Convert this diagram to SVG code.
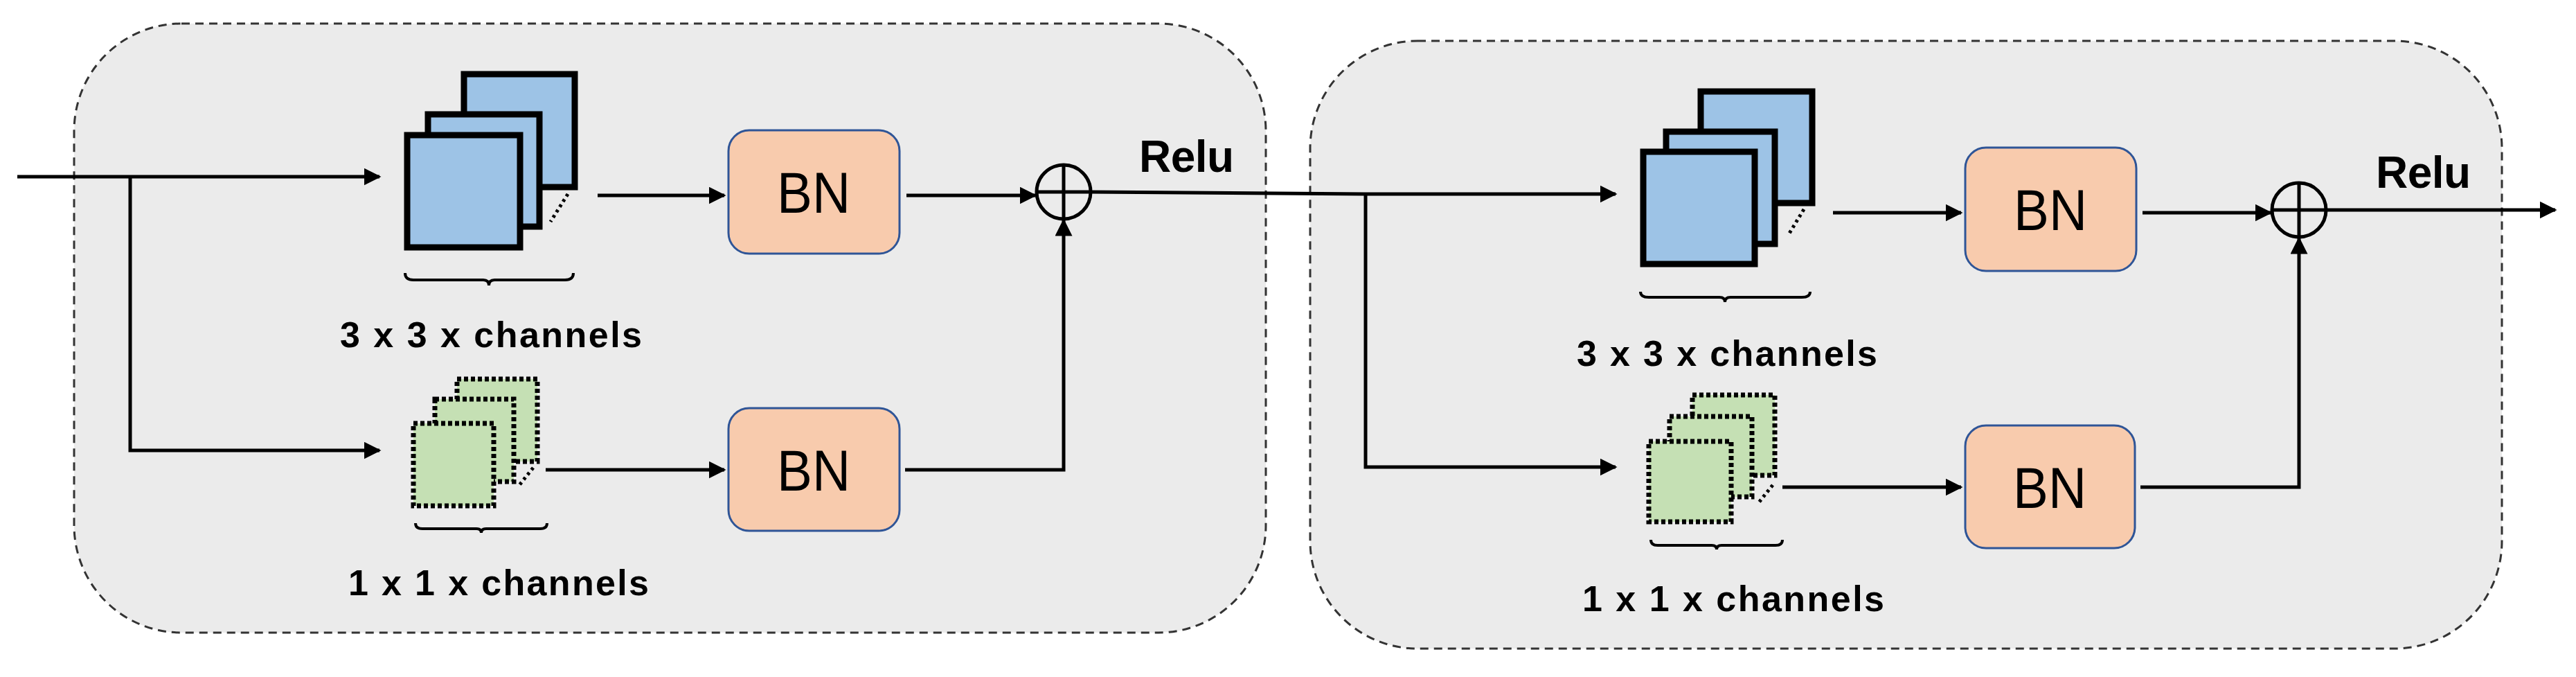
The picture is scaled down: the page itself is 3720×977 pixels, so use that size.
<svg xmlns="http://www.w3.org/2000/svg" width="3720" height="977" viewBox="0 0 3720 977">
<style>
.blk{fill:#ebebeb;stroke:#333;stroke-width:3;stroke-dasharray:12 8}
.blue{fill:#9dc3e6;stroke:#000;stroke-width:9}
.green{fill:#c5e0b4;stroke:#000;stroke-width:7;stroke-dasharray:6 4}
.bn{fill:#f8cbad;stroke:#2f5597;stroke-width:3}
.ln{fill:none;stroke:#000;stroke-width:5}
.br{fill:none;stroke:#000;stroke-width:4}
.dot{fill:none;stroke:#000;stroke-width:5;stroke-dasharray:4 5}
.t{font-family:"Liberation Sans",Arial,sans-serif;font-weight:bold;font-size:52px;fill:#000}
.bnt{font-family:"Liberation Sans",Arial,sans-serif;font-size:84px;fill:#000;text-anchor:middle}
.relu{font-family:"Liberation Sans",Arial,sans-serif;font-weight:bold;font-size:64px;fill:#000}
</style>
<defs>
<marker id="ah" viewBox="0 0 10 10" refX="9" refY="5" markerWidth="5" markerHeight="5" orient="auto" markerUnits="strokeWidth"><path d="M0,0L10,5L0,10z" fill="#000"/></marker>
</defs>
<g id="block1"><rect class="blk" x="107" y="34" width="1721" height="879" rx="155"/></g>
<g id="block2"><rect class="blk" x="1892" y="59" width="1721" height="877" rx="155"/></g>
<g id="conv3x3a">
<rect class="blue" x="670" y="107" width="160" height="163"/>
<rect class="blue" x="618" y="165" width="161" height="162"/>
<rect class="blue" x="588" y="195" width="163" height="162"/>
<path class="dot" d="M820,280 L795,320"/>
<path class="br" d="M585,394 Q585,404 597,404 L698,404 Q706,404 706,412 Q706,404 714,404 L816,404 Q828,404 828,394"/>
<text class="t" x="491" y="501" textLength="436">3 x 3 x channels</text>
</g>
<g id="conv1x1a">
<rect class="green" x="660" y="547" width="116" height="119"/>
<rect class="green" x="628" y="576" width="114" height="119"/>
<rect class="green" x="597" y="611" width="116" height="119"/>
<path class="dot" d="M770,675 L750,700"/>
<path class="br" d="M600,755 Q600,763 610,763 L688,763 Q695,763 695,769 Q695,763 702,763 L780,763 Q790,763 790,755"/>
<text class="t" x="503" y="859" textLength="434">1 x 1 x channels</text>
</g>
<g id="bn1"><rect class="bn" x="1052" y="188" width="247" height="178" rx="30"/><text class="bnt" x="1175" y="307" textLength="106" lengthAdjust="spacingAndGlyphs">BN</text></g>
<g id="bn2"><rect class="bn" x="1052" y="589" width="247" height="177" rx="30"/><text class="bnt" x="1175" y="708" textLength="106" lengthAdjust="spacingAndGlyphs">BN</text></g>
<g id="add1"><circle cx="1536" cy="277" r="39" fill="none" stroke="#000" stroke-width="5"/><path class="ln" d="M1497,277H1575M1536,238V316"/></g>
<text class="relu" x="1645" y="248" textLength="137">Relu</text>
<g id="conv3x3b">
<rect class="blue" x="2456" y="132" width="161" height="161"/>
<rect class="blue" x="2406" y="190" width="157" height="162"/>
<rect class="blue" x="2373" y="219" width="161" height="162"/>
<path class="dot" d="M2605,302 L2582,340"/>
<path class="br" d="M2369,421 Q2369,429 2381,429 L2483,429 Q2491,429 2491,436 Q2491,429 2499,429 L2602,429 Q2614,429 2614,421"/>
<text class="t" x="2277" y="528" textLength="434">3 x 3 x channels</text>
</g>
<g id="conv1x1b">
<rect class="green" x="2444" y="570" width="119" height="116"/>
<rect class="green" x="2411" y="601" width="119" height="116"/>
<rect class="green" x="2381" y="637" width="119" height="116"/>
<path class="dot" d="M2560,700 L2540,725"/>
<path class="br" d="M2384,779 Q2384,787 2394,787 L2472,787 Q2479,787 2479,793 Q2479,787 2486,787 L2564,787 Q2574,787 2574,779"/>
<text class="t" x="2285" y="882" textLength="436">1 x 1 x channels</text>
</g>
<g id="bn3"><rect class="bn" x="2838" y="213" width="247" height="178" rx="30"/><text class="bnt" x="2961" y="332" textLength="106" lengthAdjust="spacingAndGlyphs">BN</text></g>
<g id="bn4"><rect class="bn" x="2838" y="614" width="245" height="177" rx="30"/><text class="bnt" x="2960" y="733" textLength="106" lengthAdjust="spacingAndGlyphs">BN</text></g>
<g id="add2"><circle cx="3320" cy="303" r="39" fill="none" stroke="#000" stroke-width="5"/><path class="ln" d="M3281,303H3359M3320,264V342"/></g>
<text class="relu" x="3431" y="271" textLength="137">Relu</text>
<g id="connectors">
<path class="ln" d="M25,255H548" marker-end="url(#ah)"/>
<path class="ln" d="M188,255V650H548" marker-end="url(#ah)"/>
<path class="ln" d="M863,282H1046" marker-end="url(#ah)"/>
<path class="ln" d="M1309,282H1495" marker-end="url(#ah)"/>
<path class="ln" d="M788,678H1046" marker-end="url(#ah)"/>
<path class="ln" d="M1307,678H1536V318" marker-end="url(#ah)"/>
<path class="ln" d="M1575,277L1972,280L2333,280" marker-end="url(#ah)"/>
<path class="ln" d="M1972,280V674H2333" marker-end="url(#ah)"/>
<path class="ln" d="M2647,307H2832" marker-end="url(#ah)"/>
<path class="ln" d="M3094,307H3279" marker-end="url(#ah)"/>
<path class="ln" d="M2574,703H2832" marker-end="url(#ah)"/>
<path class="ln" d="M3091,703H3320V344" marker-end="url(#ah)"/>
<path class="ln" d="M3359,303H3690" marker-end="url(#ah)"/>
</g>
</svg>
